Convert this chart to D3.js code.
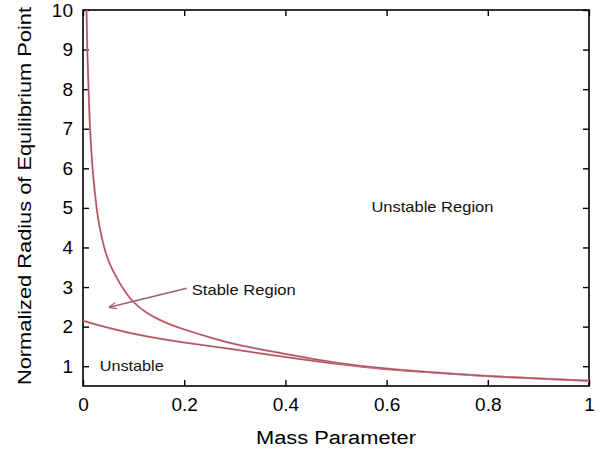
<!DOCTYPE html>
<html>
<head>
<meta charset="utf-8">
<style>
  body { margin: 0; background: #fff; }
  svg { font-family: "Liberation Sans", Arial, Helvetica, sans-serif; }
  .axis path, .axis line { stroke: #000; stroke-width: 1.4px; }
  .axis text { font-size: 19px; fill: #000; }
  .curve-under { fill: none; stroke: #e8788a; stroke-width: 2px; }
  .curve-over { fill: none; stroke: #6a4850; stroke-width: 0.8px; opacity: 0.85; }
  .note { font-size: 15px; fill: #111; }
</style>
</head>
<body>
<script src="https://cdn.jsdelivr.net/npm/d3@7"></script>
<script>

  // values
  var upperMu = [0.007, 0.0085, 0.011, 0.014, 0.019, 0.027, 0.033, 0.042, 0.048, 0.056, 0.064, 0.075, 0.087, 0.100, 0.125, 0.150, 0.175, 0.200, 0.250, 0.300, 0.400, 0.500, 0.600, 0.700, 0.800, 0.900, 1.000];
  var upperR  = [10.0, 9.0, 8.0, 7.0, 6.0, 5.0, 4.5, 4.0, 3.75, 3.5, 3.3, 3.05, 2.82, 2.62, 2.36, 2.18, 2.04, 1.93, 1.73, 1.56, 1.31, 1.09, 0.94, 0.84, 0.75, 0.69, 0.63];
  var lowerMu = [0.0, 0.05, 0.10, 0.15, 0.20, 0.30, 0.40, 0.50, 0.60, 0.70, 0.80, 0.90, 1.00];
  var lowerR  = [2.15, 1.97, 1.82, 1.70, 1.60, 1.42, 1.23, 1.06, 0.92, 0.83, 0.75, 0.69, 0.63];
  var xTicks = [0, 0.2, 0.4, 0.6, 0.8, 1];
  var yTicks = [1, 2, 3, 4, 5, 6, 7, 8, 9, 10];
  var notes = [
    { text: "Unstable Region", x: 0.57, y: 5.03, len: 122 },
    { text: "Stable Region", x: 0.215, y: 2.93, len: 104 },
    { text: "Unstable", x: 0.033, y: 1.0, len: 64 }
  ];
  var arrowFrom = [0.205, 2.97], arrowTo = [0.052, 2.49];

  var margin = { top: 10, right: 20, bottom: 68, left: 83 },
      width = 609 - margin.left - margin.right,
      height = 454 - margin.top - margin.bottom;

  var x = d3.scaleLinear().domain([0, 1]).range([0, width]);
  var y = d3.scaleLinear().domain([0.5, 10]).range([height, 0]);

  var svg = d3.select("body").append("svg")
      .attr("width", 609)
      .attr("height", 454)
    .append("g")
      .attr("transform", "translate(" + margin.left + "," + margin.top + ")");

  var defs = svg.append("defs");
  defs.append("marker")
      .attr("id", "head")
      .attr("viewBox", "0 -5 10 10")
      .attr("refX", 9)
      .attr("refY", 0)
      .attr("markerWidth", 8)
      .attr("markerHeight", 8)
      .attr("markerUnits", "userSpaceOnUse")
      .attr("orient", "auto")
    .append("path")
      .attr("d", "M0,-4L10,0L0,4")
      .attr("fill", "none")
      .attr("stroke", "#9a6068")
      .attr("stroke-width", 1.4);

  // box + ticks (inward, mirrored)
  svg.append("g").attr("class", "axis")
      .attr("transform", "translate(0," + height + ")")
      .call(d3.axisBottom(x).tickValues(xTicks).tickSizeInner(-6).tickSizeOuter(0).tickPadding(12).tickFormat(d3.format("")))
      .selectAll("text").attr("dy", "0.71em");
  svg.append("g").attr("class", "axis")
      .call(d3.axisTop(x).tickValues(xTicks).tickSizeInner(-6).tickSizeOuter(0).tickFormat(""));
  svg.append("g").attr("class", "axis")
      .call(d3.axisLeft(y).tickValues(yTicks).tickSizeInner(-6).tickSizeOuter(0).tickPadding(10));
  svg.append("g").attr("class", "axis")
      .attr("transform", "translate(" + width + ",0)")
      .call(d3.axisRight(y).tickValues(yTicks).tickSizeInner(-6).tickSizeOuter(0).tickFormat(""));

  svg.selectAll(".axis .domain").remove();
  svg.append("rect")
      .attr("width", width)
      .attr("height", height)
      .attr("fill", "none")
      .attr("stroke", "#000")
      .attr("stroke-width", 1.6);

  var upper = upperMu.map(function(d, i) { return [d, upperR[i]]; });
  var lower = lowerMu.map(function(d, i) { return [d, lowerR[i]]; });

  var line = d3.line()
      .curve(d3.curveCatmullRom.alpha(0.5))
      .x(function(d) { return x(d[0]); })
      .y(function(d) { return y(d[1]); });

  [lower, upper].forEach(function(s) {
    svg.append("path").datum(s).attr("class", "curve-under").attr("d", line);
    svg.append("path").datum(s).attr("class", "curve-over").attr("d", line);
  });

  svg.append("line")
      .attr("x1", x(arrowFrom[0])).attr("y1", y(arrowFrom[1]))
      .attr("x2", x(arrowTo[0])).attr("y2", y(arrowTo[1]))
      .attr("stroke", "#9a6068")
      .attr("stroke-width", 1.4)
      .attr("marker-end", "url(#head)");

  svg.selectAll(".note")
      .data(notes)
    .enter().append("text")
      .attr("class", "note")
      .attr("x", function(d) { return x(d.x); })
      .attr("y", function(d) { return y(d.y); })
      .attr("dy", "0.35em")
      .attr("textLength", function(d) { return d.len; })
      .attr("lengthAdjust", "spacingAndGlyphs")
      .text(function(d) { return d.text; });

  svg.append("text")
      .attr("x", width / 2)
      .attr("y", height + 58)
      .attr("text-anchor", "middle")
      .attr("font-size", 18)
      .attr("textLength", 160)
      .attr("lengthAdjust", "spacingAndGlyphs")
      .text("Mass Parameter");

  svg.append("text")
      .attr("transform", "rotate(-90)")
      .attr("x", -186)
      .attr("y", -52)
      .attr("text-anchor", "middle")
      .attr("font-size", 18)
      .attr("textLength", 378)
      .attr("lengthAdjust", "spacingAndGlyphs")
      .text("Normalized Radius of Equilibrium Point");

</script>
</body>
</html>
